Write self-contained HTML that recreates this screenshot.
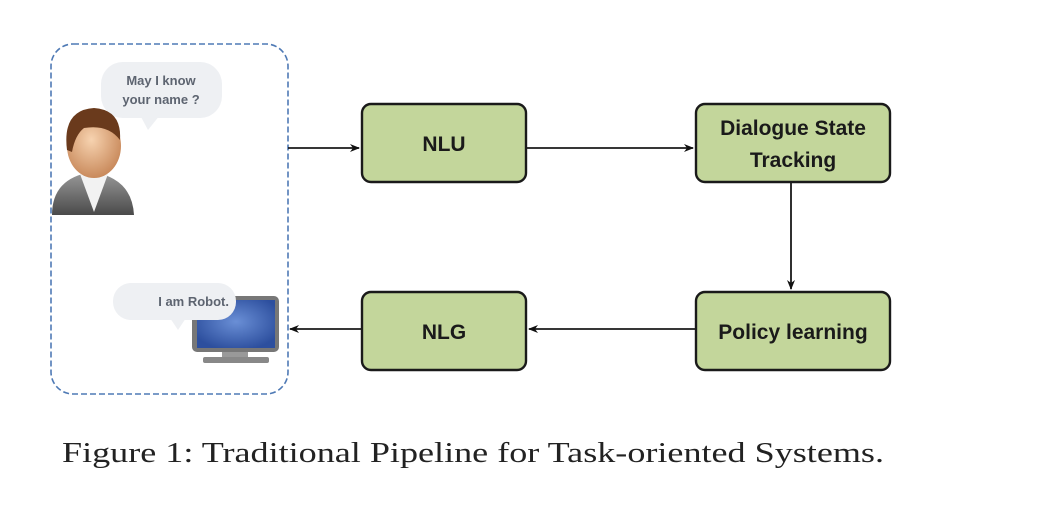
<!DOCTYPE html>
<html><head><meta charset="utf-8"><style>
html,body{margin:0;padding:0;background:#fff;width:1044px;height:520px;overflow:hidden}
</style></head><body>
<svg width="1044" height="520" viewBox="0 0 1044 520" xmlns="http://www.w3.org/2000/svg">
<defs>
<marker id="ah" markerWidth="10" markerHeight="8" refX="9" refY="4" orient="auto" markerUnits="userSpaceOnUse">
<path d="M0,0 L10,4 L0,8 L3,4 Z" fill="#111"/></marker>
<radialGradient id="scr" cx="50%" cy="45%" r="60%"><stop offset="0" stop-color="#6a8fd6"/><stop offset="1" stop-color="#2d4f9e"/></radialGradient>
<linearGradient id="body" x1="0" y1="0" x2="0" y2="1"><stop offset="0" stop-color="#9a9a9a"/><stop offset="1" stop-color="#4a4a4a"/></linearGradient>
<radialGradient id="face" cx="45%" cy="40%" r="60%"><stop offset="0" stop-color="#f7d3b0"/><stop offset="1" stop-color="#c98a5c"/></radialGradient>
</defs>
<rect x="51" y="44" width="237" height="350" rx="22" fill="none" stroke="#4f7ab5" stroke-width="1.6" stroke-dasharray="6,3"/>
<!-- speech bubble 1 -->
<rect x="101" y="62" width="121" height="56" rx="22" fill="#eef0f3"/>
<path d="M140,115 L148,130 L160,115 Z" fill="#eef0f3"/>
<text x="161" y="85" font-family="Liberation Sans,sans-serif" font-weight="bold" font-size="13" fill="#5d6470" text-anchor="middle">May I know</text>
<text x="161" y="104" font-family="Liberation Sans,sans-serif" font-weight="bold" font-size="13" fill="#5d6470" text-anchor="middle">your name ?</text>
<!-- person -->
<path d="M52,215 Q52,178 92,172 Q132,178 134,215 Z" fill="url(#body)"/>
<path d="M80,174 L94,212 L108,174 Z" fill="#f2f2f2"/>
<ellipse cx="94" cy="146" rx="27" ry="32" fill="url(#face)"/>
<path d="M67,150 Q62,110 94,108 Q122,110 120,140 Q108,124 84,128 Q75,135 72,152 Z" fill="#6a3a1c"/>
<!-- monitor -->
<rect x="192" y="296" width="87" height="56" rx="5" fill="#777"/>
<rect x="197" y="300" width="78" height="48" fill="url(#scr)"/>
<rect x="222" y="352" width="26" height="5" fill="#999"/>
<rect x="203" y="357" width="66" height="6" rx="2" fill="#888"/>
<!-- robot bubble -->
<rect x="113" y="283" width="123" height="37" rx="18" fill="#eef0f3"/>
<path d="M170,318 L178,330 L186,318 Z" fill="#eef0f3"/>
<text x="229" y="306" font-family="Liberation Sans,sans-serif" font-weight="bold" font-size="13" fill="#5d6470" text-anchor="end">I am Robot.</text>
<!-- boxes -->
<g stroke="#1a1a1a" stroke-width="2.4" fill="#c3d69b">
<rect x="362" y="104" width="164" height="78" rx="9"/>
<rect x="696" y="104" width="194" height="78" rx="9"/>
<rect x="362" y="292" width="164" height="78" rx="9"/>
<rect x="696" y="292" width="194" height="78" rx="9"/>
</g>
<g font-family="Liberation Sans,sans-serif" font-weight="bold" font-size="21" fill="#1a1a1a" text-anchor="middle">
<text x="444" y="151">NLU</text>
<text x="793" y="135">Dialogue State</text>
<text x="793" y="167">Tracking</text>
<text x="444" y="339">NLG</text>
<text x="793" y="339">Policy learning</text>
</g>
<g stroke="#1a1a1a" stroke-width="1.8" fill="none">
<line x1="288" y1="148" x2="359" y2="148" marker-end="url(#ah)"/>
<line x1="526" y1="148" x2="693" y2="148" marker-end="url(#ah)"/>
<line x1="791" y1="182" x2="791" y2="289" marker-end="url(#ah)"/>
<line x1="696" y1="329" x2="529" y2="329" marker-end="url(#ah)"/>
<line x1="362" y1="329" x2="290" y2="329" marker-end="url(#ah)"/>
</g>
<text x="62" y="462" font-family="Liberation Serif,serif" font-size="28" fill="#222" textLength="822" lengthAdjust="spacingAndGlyphs">Figure 1: Traditional Pipeline for Task-oriented Systems.</text>
</svg>
</body></html>
